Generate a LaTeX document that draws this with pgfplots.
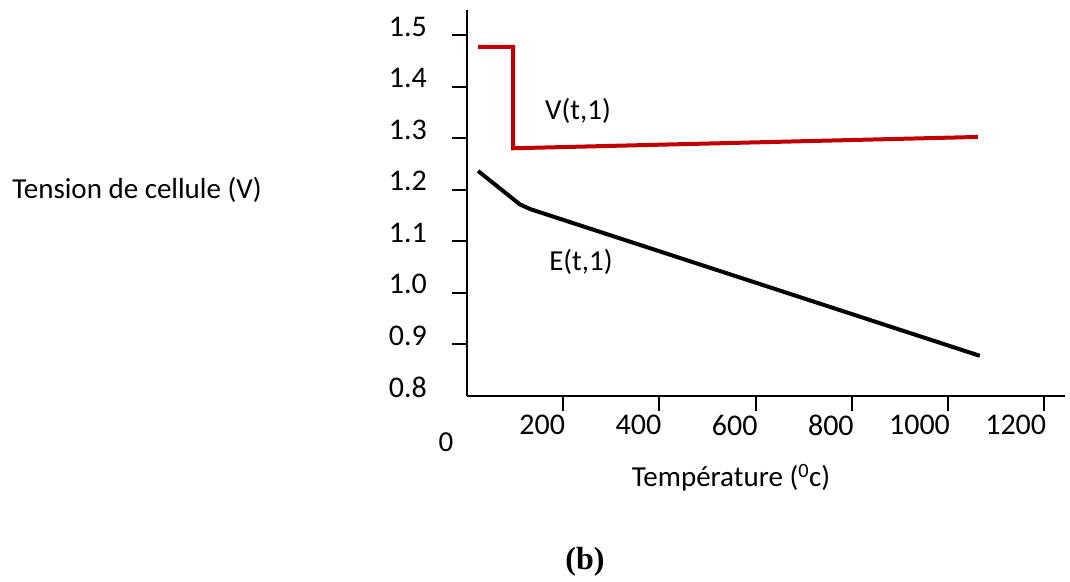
\documentclass[border=0pt]{standalone}
\usepackage{fontspec}
\setmainfont{Carlito}
\newfontfamily\timesfont{Liberation Serif}
\usepackage{pgfplots}
\pgfplotsset{compat=1.18}
\definecolor{vred}{RGB}{192,0,0}
\begin{document}
\begin{tikzpicture}[x=1pt,y=1pt]
\useasboundingbox (0,0) rectangle (1070,581);
\begin{axis}[
  at={(467pt,185pt)}, anchor=south west,
  scale only axis, width=598pt, height=386pt,
  xmin=0, xmax=1243, ymin=0.8, ymax=1.5495,
  axis lines*=left,
  axis line style={line width=2pt, black},
  clip=false,
  tick align=outside,
  major tick length=15pt,
  tick style={line width=2pt, black},
  xtick={200,400,600,800,1000,1200},
  xticklabels={200,400,600,800,1000,1200},
  ytick={0.9,1.0,1.1,1.2,1.3,1.4,1.5},
  yticklabels={0.9,1.0,1.1,1.2,1.3,1.4,1.5},
  extra y ticks={0.8},
  extra y tick labels={0.8},
  extra y tick style={tick style={draw=none}},
  xticklabel style={font=\fontsize{30}{34}\selectfont, inner sep=0pt, anchor=north east, yshift=-4pt, xshift=2pt},
  yticklabel style={font=\fontsize{30}{34}\selectfont, inner sep=0pt, anchor=east, xshift=-25pt, yshift=9pt},
]
\addplot[vred, line width=4pt, line join=miter] coordinates {(23,1.478) (96,1.478) (96,1.281) (1062,1.303)};
\addplot[black, line width=4pt, line join=round] coordinates {(23,1.237) (110,1.172) (131,1.163) (1066,0.878)};
\end{axis}
\begin{scope}[every node/.style={inner sep=0pt, font=\fontsize{29}{34}\selectfont}]
\node at (137,391) {Tension de cellule (V)};
\node at (731,103) {Température (\textsuperscript{0}c)};
\node at (446,139) {0};
\node at (578,470) {V(t,1)};
\node at (581,319) {E(t,1)};
\node[font=\fontsize{32}{36}\selectfont\timesfont\bfseries] at (585,19) {(b)};
\end{scope}
\end{tikzpicture}
\end{document}
